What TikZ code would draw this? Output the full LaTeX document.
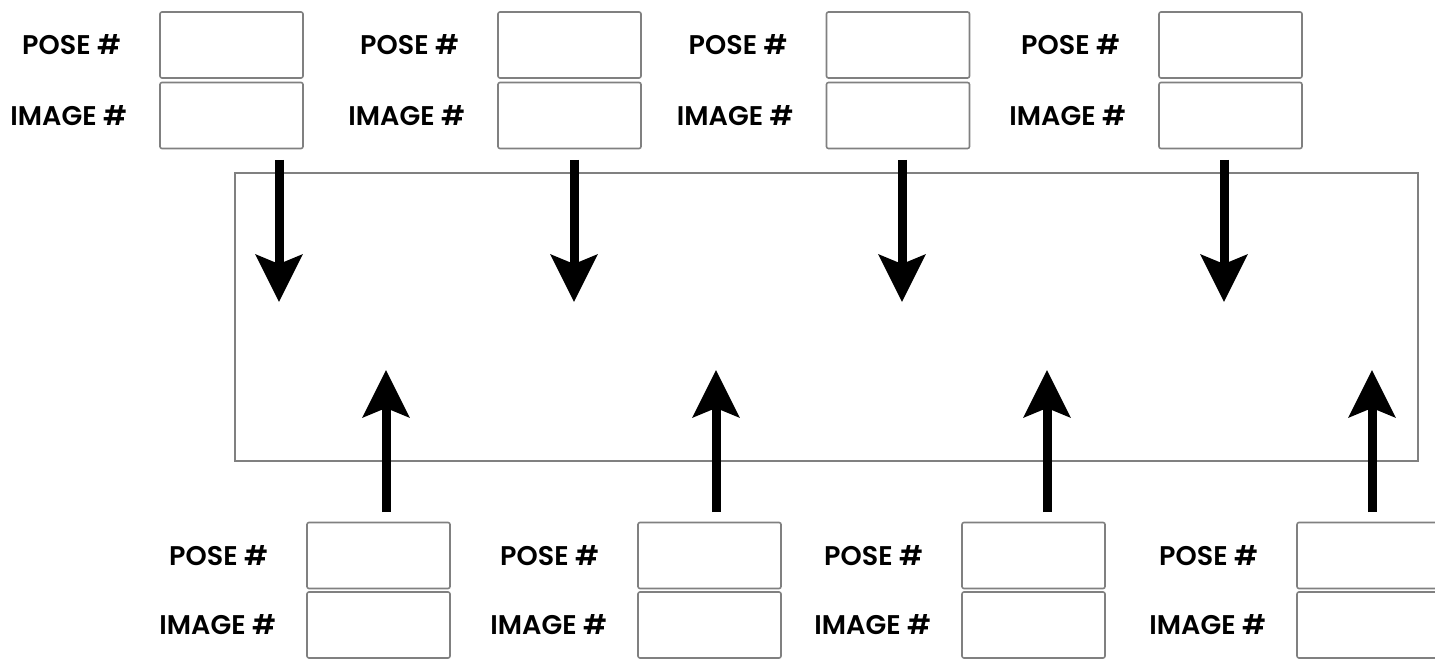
\documentclass[tikz,border=0pt]{standalone}
\usepackage{fontspec}
\setmainfont{Poppins}[UprightFont=* SemiBold,BoldFont=* Bold]
\usetikzlibrary{arrows.meta}
\begin{document}
\begin{tikzpicture}[x=1pt,y=-1pt,
  cell/.style={draw=black!50,line width=1.6pt,rounded corners=2pt,minimum width=143pt,minimum height=66pt,inner sep=0pt},
  lbl/.style={anchor=east,font=\fontsize{27}{27}\selectfont,inner sep=0pt},
  bigbox/.style={draw=black!50,line width=1.3pt},
  flow/.style={line width=9pt,-{Stealth[length=47pt,width=46pt,inset=9pt]}}]
\useasboundingbox (0,0) rectangle (1435,660);
% main rectangle
\node[bigbox,minimum width=1183pt,minimum height=288pt,inner sep=0pt] (main) at (826.5,317) {};
% top row
\foreach \i/\x/\ax in {1/231.5/279,2/569.5/574,3/898/902,4/1230.5/1224}{
  \node[cell] (tp\i) at (\x,45) {};
  \node[cell] (ti\i) at (\x,115.5) {};
  \node[lbl] (tpl\i) at ([xshift=-38pt]tp\i.west) {POSE \#};
  \node[lbl] (til\i) at ([xshift=-32pt]ti\i.west) {IMAGE \#};
  \coordinate (ts\i) at (\ax,160);
  \coordinate (te\i) at (\ax,302);
  \draw[flow] (ts\i) -- (te\i);
}
% bottom row
\foreach \i/\x/\ax in {1/378.5/386,2/709.5/716,3/1033.5/1047,4/1368.5/1372}{
  \node[cell] (bp\i) at (\x,555.5) {};
  \node[cell] (bi\i) at (\x,625) {};
  \node[lbl] (bpl\i) at ([xshift=-38pt]bp\i.west) {POSE \#};
  \node[lbl] (bil\i) at ([xshift=-30pt]bi\i.west) {IMAGE \#};
  \coordinate (bs\i) at (\ax,512);
  \coordinate (be\i) at (\ax,370);
  \draw[flow] (bs\i) -- (be\i);
}
\end{tikzpicture}
\end{document}
